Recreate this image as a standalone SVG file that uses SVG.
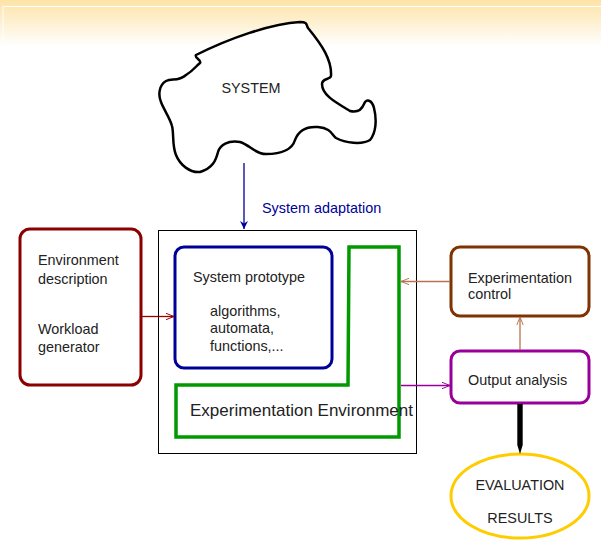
<svg xmlns="http://www.w3.org/2000/svg" width="601" height="540" viewBox="0 0 601 540">
<defs>
<linearGradient id="hdr" x1="0" y1="0" x2="0" y2="1">
<stop offset="0" stop-color="#fde3a6"/>
<stop offset="1" stop-color="#ffffff"/>
</linearGradient>
<marker id="ah" viewBox="0 0 10 10" refX="10" refY="5" markerWidth="8" markerHeight="8" markerUnits="userSpaceOnUse" orient="auto">
<path d="M0,1 L10,5 L0,9" fill="none" stroke="context-stroke" stroke-width="1.2"/>
</marker>
<marker id="ahb" viewBox="0 0 10 10" refX="10" refY="5" markerWidth="8" markerHeight="9" markerUnits="userSpaceOnUse" orient="auto">
<path d="M0,0 L10,5 L0,10 L3,5 Z" fill="#000099"/>
</marker>
</defs>
<style>
text{font-family:"Liberation Sans",Arial,sans-serif;font-size:14.4px;fill:#222}
.box{fill:#fff;stroke-width:3}
.conn{fill:none;stroke-width:1.3}
</style>
<rect width="601" height="540" fill="#fff"/>
<rect x="0" y="0" width="601" height="46" fill="url(#hdr)"/>
<path d="M3,46 V6.5 H601" fill="none" stroke="#fff" stroke-width="1"/>

<g id="system">
<path d="M196,55 C230,38 270,24 300,22 C308,22 306,25 308,28 C322,45 332,60 331,76 C330,80 322,78 322,84 C322,95 335,102 350,111 C358,113 362,109 364,104 C366,98 372,100 374,108 C377,120 376,133 370,140 C362,145 345,143 336,138 C332,135 331,128 318,127 C305,126 298,132 295,140 C292,150 282,154 266,154 C255,154 250,145 240,142 C228,140 220,145 218,152 C216,160 213,168 200,172 C190,173 180,165 176,155 C172,146 174,133 172,126 C170,118 164,110 161,102 C158,95 159,85 166,81 C172,78 178,82 186,75 C194,70 196,66 200,63 C202,60 194,58 196,55 Z" fill="#fff" stroke="#000" stroke-width="2.5"/>
<text x="251" y="93" text-anchor="middle">SYSTEM</text>
</g>

<g id="environment">
<rect x="158.5" y="230.5" width="258" height="223" fill="#fff" stroke="#000" stroke-width="1"/>
<polygon points="349,247 399,247 399,437 176,437 176,385 348,385" fill="none" stroke="#009900" stroke-width="3.5" stroke-linejoin="miter"/>
<text x="190" y="416" style="font-size:17px">Experimentation Environment</text>
</g>

<g id="prototype">
<rect class="box" x="175" y="247" width="157" height="121" rx="9" stroke="#000099"/>
<text x="193" y="282">System prototype</text>
<text x="210" y="316">algorithms,</text>
<text x="210" y="333">automata,</text>
<text x="210" y="351">functions,...</text>
</g>

<g id="envdesc">
<rect class="box" x="20" y="229" width="121" height="156" rx="10" stroke="#8b0000"/>
<text x="38" y="265">Environment</text>
<text x="38" y="284">description</text>
<text x="38" y="334">Workload</text>
<text x="38" y="352">generator</text>
</g>

<g id="control">
<rect class="box" x="451" y="247" width="138" height="69" rx="9" stroke="#7f3300"/>
<text x="468" y="283">Experimentation</text>
<text x="468" y="299">control</text>
</g>

<g id="output">
<rect class="box" x="451" y="351" width="138" height="52" rx="9" stroke="#990099"/>
<text x="468" y="385">Output analysis</text>
</g>

<g id="results">
<ellipse cx="520" cy="496" rx="69" ry="42" fill="#fff" stroke="#ffcc00" stroke-width="3"/>
<text x="520" y="490" text-anchor="middle">EVALUATION</text>
<text x="520" y="523" text-anchor="middle">RESULTS</text>
</g>

<g id="connectors">
<line class="conn" x1="244" y1="163" x2="244" y2="229" stroke="#000099" stroke-width="2" marker-end="url(#ahb)"/>
<text x="262" y="213" style="fill:#000099">System adaptation</text>
<line class="conn" x1="142" y1="316.5" x2="174" y2="316.5" stroke="#990000" marker-end="url(#ah)"/>
<line class="conn" x1="450" y1="281.5" x2="401" y2="281.5" stroke="#b5734f" marker-end="url(#ah)"/>
<line class="conn" x1="401" y1="385.5" x2="450" y2="385.5" stroke="#990099" marker-end="url(#ah)"/>
<line class="conn" x1="520" y1="350" x2="520" y2="317" stroke="#b5734f" marker-end="url(#ah)"/>
<path d="M517.3,404 H522.7 V445 L520,454 L517.3,445 Z" fill="#000"/>
</g>
</svg>
